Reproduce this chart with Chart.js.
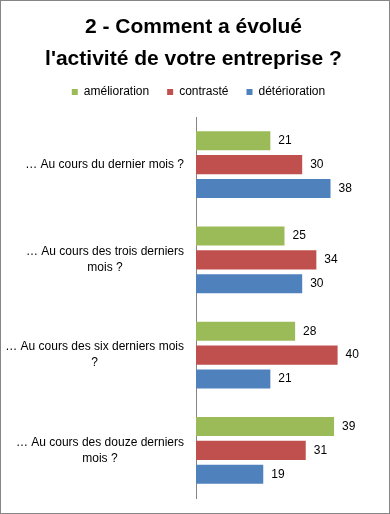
<!DOCTYPE html>
<html>
<head>
<meta charset="utf-8">
<script src="https://cdn.jsdelivr.net/npm/chart.js@4.4.0/dist/chart.umd.min.js"></script>
<style>
  html, body { margin: 0; padding: 0; background: #fff; }
  #wrap { width: 390px; height: 514px; position: relative; }
</style>
</head>
<body>
<div id="wrap"><canvas id="chart"></canvas></div>
<script>
const titleLines = ['2 - Comment a évolué', "l'activité de votre entreprise ?"];
const categories = [
    ['\u2026 Au cours du dernier mois ?'],
    ['\u2026 Au cours des trois derniers', 'mois ?'],
    ['\u2026 Au cours des six derniers mois', '?'],
    ['\u2026 Au cours des douze derniers', 'mois ?']
];
const seriesNames = ['amélioration', 'contrasté', 'détérioration'];
const amelioration = [21, 25, 28, 39];
const contraste = [30, 34, 40, 31];
const deterioration = [38, 30, 21, 19];
const colors = ['#9BBB59', '#C0504D', '#4F81BD'];

const FONT = "'Liberation Sans', Arial, sans-serif";

// grey frame around the whole chart
const framePlugin = {
    id: 'frame',
    afterDraw(chart) {
        const ctx = chart.ctx;
        ctx.save();
        ctx.strokeStyle = '#868686';
        ctx.lineWidth = 1;
        ctx.strokeRect(0.5, 0.5, chart.width - 1, chart.height - 1);
        ctx.restore();
    }
};

// extra room under the legend, and nudge it a bit to the right
const legendGap = {
    id: 'legendGap',
    beforeInit(chart) {
        const fit = chart.legend.fit;
        chart.legend.fit = function () {
            fit.call(this);
            this.height += 9;
        };
    },
    afterLayout(chart) {
        chart.legend.left += 5;
        chart.legend.right += 5;
    }
};

// category labels, each block right aligned, lines centred inside the block
const catLabels = {
    id: 'catLabels',
    afterDraw(chart) {
        const ctx = chart.ctx;
        const yScale = chart.scales.y;
        const right = chart.chartArea.left - 12;
        ctx.save();
        ctx.font = '12px ' + FONT;
        ctx.fillStyle = '#000';
        ctx.textAlign = 'center';
        ctx.textBaseline = 'middle';
        categories.forEach((lines, i) => {
            const cy = yScale.getPixelForValue(i);
            const w = Math.max(...lines.map(l => ctx.measureText(l).width));
            const cx = right - w / 2;
            const lh = 16;
            const y0 = cy - (lines.length - 1) * lh / 2;
            lines.forEach((l, j) => ctx.fillText(l, cx, y0 + j * lh));
        });
        ctx.restore();
    }
};

// value at the end of each bar
const valueLabels = {
    id: 'valueLabels',
    afterDatasetsDraw(chart) {
        const ctx = chart.ctx;
        ctx.save();
        ctx.font = '12px ' + FONT;
        ctx.fillStyle = '#000';
        ctx.textAlign = 'left';
        ctx.textBaseline = 'middle';
        chart.data.datasets.forEach((ds, i) => {
            chart.getDatasetMeta(i).data.forEach((bar, j) => {
                ctx.fillText(ds.data[j], bar.x + 8, bar.y);
            });
        });
        ctx.restore();
    }
};

new Chart(document.getElementById('chart'), {
    type: 'bar',
    data: {
        labels: categories,
        datasets: [
            { label: seriesNames[0], data: amelioration, backgroundColor: colors[0] },
            { label: seriesNames[1], data: contraste, backgroundColor: colors[1] },
            { label: seriesNames[2], data: deterioration, backgroundColor: colors[2] }
        ]
    },
    options: {
        indexAxis: 'y',
        responsive: true,
        maintainAspectRatio: false,
        animation: false,
        categoryPercentage: 0.75,
        barPercentage: 0.8,
        layout: { padding: { left: 14, right: 17, top: 0, bottom: 16 } },
        scales: {
            x: { min: 0, max: 50, display: false },
            y: {
                grid: { display: false },
                border: { display: true, color: '#868686' },
                ticks: { display: false },
                afterFit(scale) { scale.width = 182; }
            }
        },
        plugins: {
            title: {
                display: true,
                text: titleLines,
                color: '#000',
                font: { family: FONT, size: 21, weight: 'bold', lineHeight: 32 / 21 },
                padding: { top: 11, bottom: -7 }
            },
            legend: {
                position: 'top',
                labels: {
                    color: '#000',
                    font: { family: FONT, size: 12 },
                    boxWidth: 6,
                    boxHeight: 6,
                    padding: 18
                }
            },
            tooltip: { enabled: false }
        }
    },
    plugins: [framePlugin, legendGap, catLabels, valueLabels]
});
</script>
</body>
</html>
